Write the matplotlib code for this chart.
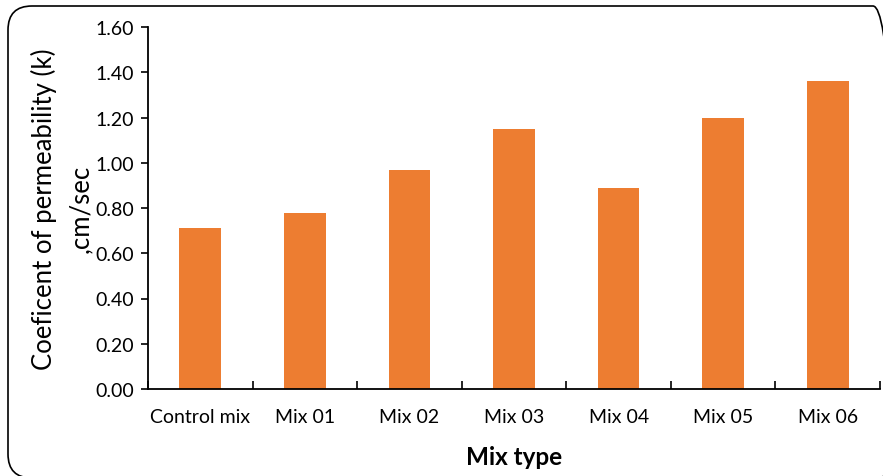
import matplotlib
matplotlib.use("Agg")
import matplotlib.pyplot as plt
from matplotlib.patches import FancyBboxPatch
from matplotlib.transforms import IdentityTransform
import numpy as np

plt.rcParams['font.family'] = ['Lato', 'DejaVu Sans']

mixes = ['Control mix', 'Mix 01', 'Mix 02', 'Mix 03', 'Mix 04', 'Mix 05', 'Mix 06']
k_values = [0.71, 0.78, 0.97, 1.15, 0.89, 1.20, 1.36]
y_ticks = [0.0, 0.2, 0.4, 0.6, 0.8, 1.0, 1.2, 1.4, 1.6]

W, H = 883, 477
fig = plt.figure(figsize=(W / 100, H / 100), dpi=100)
ax = fig.add_axes([148 / W, 87 / H, 732 / W, 362 / H])

x = np.arange(len(mixes))
ax.bar(x, k_values, width=0.4, color='#ED7D31', edgecolor='none')

ax.set_xlim(-0.5, len(mixes) - 0.5)
ax.set_ylim(0, 1.6)
ax.set_yticks(y_ticks)
ax.set_yticklabels(['%.2f' % v for v in y_ticks])
ax.set_xticks(x)
ax.set_xticklabels(mixes)
# category separators drawn as small inward ticks
ax.set_xticks(np.arange(len(mixes) + 1) - 0.5, minor=True)
ax.tick_params(axis='x', which='major', length=0, pad=14, labelsize=14)
ax.tick_params(axis='x', which='minor', direction='in', length=6, width=1.2)
ax.tick_params(axis='y', direction='out', length=5, width=1.2, labelsize=14, pad=5)

for s in ['top', 'right']:
    ax.spines[s].set_visible(False)
for s in ['left', 'bottom']:
    ax.spines[s].set_linewidth(1.3)

ax.set_ylabel('Coeficent of permeability (k)\n,cm/sec', fontsize=18.5, labelpad=2,
              linespacing=1.55)
ax.set_xlabel('Mix type', fontsize=17.5, fontweight='bold', labelpad=14)

# rounded frame around the chart
frame = FancyBboxPatch((8, -2), 889, 472, boxstyle='round,pad=0,rounding_size=24',
                       transform=IdentityTransform(), fill=False,
                       edgecolor='black', linewidth=1.2)
fig.patches.append(frame)

fig.savefig('out.png', dpi=100)
